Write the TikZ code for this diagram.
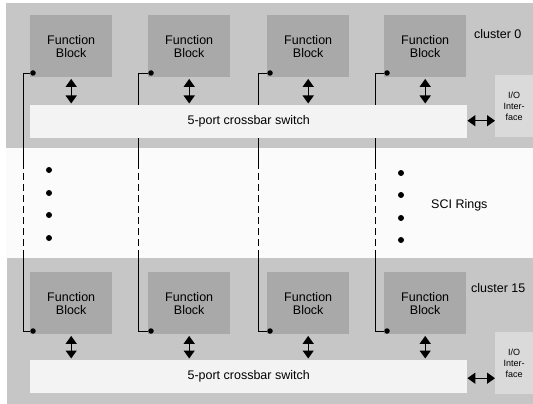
\documentclass[tikz,border=0pt]{standalone}
\usepackage{fontspec}
\setmainfont{Liberation Sans}
\usetikzlibrary{arrows.meta}
\definecolor{clustergray}{HTML}{C6C6C6}
\definecolor{blockgray}{HTML}{A9A9A9}
\definecolor{switchfill}{HTML}{F3F3F3}
\definecolor{iofill}{HTML}{DADADA}
\definecolor{ringfill}{HTML}{FBFBFB}
\begin{document}
\begin{tikzpicture}[x=1pt,y=-1pt,
  fblock/.style={fill=blockgray, draw=none, anchor=north west, inner sep=0pt,
    minimum width=82pt, minimum height=62pt, align=center,
    font=\fontsize{12.5}{13}\selectfont},
  xbar/.style={fill=switchfill, draw=none, anchor=north west, inner sep=0pt,
    minimum width=437pt, minimum height=33pt, font=\fontsize{12.5}{14}\selectfont},
  iobox/.style={fill=iofill, draw=none, anchor=north west, inner sep=0pt,
    minimum width=38pt, minimum height=62pt, align=center,
    font=\fontsize{9}{11}\selectfont},
  portdot/.style={circle, fill=black, inner sep=0pt, minimum size=5.5pt},
  link/.style={line width=0.9pt, black},
  ringlink/.style={line width=0.9pt, black, dash pattern=on 7pt off 4pt},
  dbl/.style={line width=1.4pt, {Triangle[width=11pt,length=8pt]}-{Triangle[width=11pt,length=8pt]}},
  tag/.style={font=\fontsize{12.5}{14}\selectfont, anchor=west, inner sep=0pt},
  ringdot/.style={circle, fill=black, inner sep=0pt, minimum size=6pt}]
\useasboundingbox (0,0) rectangle (533,404);
\fill[white] (0,0) rectangle (533,404);
% cluster backgrounds and the ring area between them
\fill[clustergray] (6,3) rectangle (533,148);
\fill[ringfill] (6,148) rectangle (533,258);
\fill[clustergray] (7,258) rectangle (533,404);

% SCI ring connections (drawn first so that the switches cover them)
\foreach \i/\bx/\lx in {1/30/23, 2/148/138, 3/267/258, 4/384/375} {
  \coordinate (rt\i) at (\lx,162);
  \coordinate (rb\i) at (\lx,252);
  \coordinate (pt\i) at (\bx+3,73);
  \coordinate (pb\i) at (\bx+3,331);
  \draw[link] (pt\i) -- (pt\i -| rt\i) -- (rt\i);
  \draw[ringlink] (rt\i) -- (rb\i);
  \draw[link] (rb\i) -- (pb\i -| rb\i) -- (pb\i);
}

% cluster 0
\node[xbar] (sw0) at (30,105) {5-port crossbar switch};
\node[iobox] (io0) at (495,75) {I/O\\Inter-\\face};
\foreach \i/\bx in {1/30, 2/148, 3/267, 4/384} {
  \node[fblock] (ta\i) at (\bx,15) {Function\\Block};
  \node[portdot] (tp\i) at (pt\i) {};
  \draw[dbl, shorten <=1.5pt, shorten >=1.5pt] (ta\i.south) -- (ta\i.south |- sw0.north);
}
\draw[dbl] ([yshift=1pt]sw0.east) -- ([yshift=1pt]sw0.east -| io0.west);
\node[tag] (c0) at (474,34) {cluster 0};

% SCI rings
\foreach \j/\y in {1/170, 2/193, 3/215, 4/238}
  \node[ringdot] (ld\j) at (49,\y) {};
\foreach \j/\y in {1/173, 2/195, 3/218, 4/240}
  \node[ringdot] (rd\j) at (401,\y) {};
\node[tag] (sci) at (431,205) {SCI Rings};

% cluster 15
\node[xbar] (sw15) at (30,360) {5-port crossbar switch};
\node[iobox] (io15) at (495,332) {I/O\\Inter-\\face};
\foreach \i/\bx in {1/30, 2/148, 3/267, 4/384} {
  \node[fblock] (ba\i) at (\bx,272) {Function\\Block};
  \node[portdot] (bp\i) at (pb\i) {};
  \draw[dbl, shorten <=1.5pt, shorten >=1.5pt] (ba\i.south) -- (ba\i.south |- sw15.north);
}
\draw[dbl] ([yshift=-1.5pt]sw15.east) -- ([yshift=-1.5pt]sw15.east -| io15.west);
\node[tag] (c15) at (471,288) {cluster 15};
\end{tikzpicture}
\end{document}
